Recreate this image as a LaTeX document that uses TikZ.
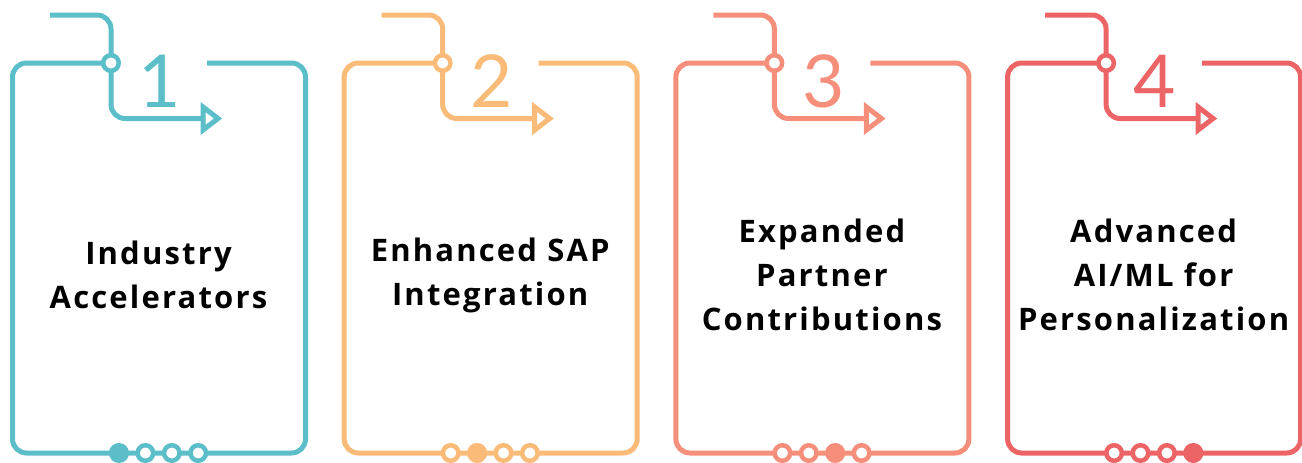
\documentclass[tikz,border=0pt]{standalone}
\usepackage{fontspec}
\newfontfamily\lblfont{Open Sans}[LetterSpace=7]
\newfontfamily\digitfont{Lato}
\definecolor{c1}{HTML}{5BBEC8}
\definecolor{c2}{HTML}{F9BB77}
\definecolor{c3}{HTML}{F58F7B}
\definecolor{c4}{HTML}{EC6465}
\tikzset{
  wire/.style={line width=5pt, rounded corners=14pt},
  tip/.style={line width=5pt, fill=white, line join=miter},
  junc/.style={circle, line width=4.5pt, fill=white, minimum size=15.5pt, inner sep=0pt},
  bead/.style={circle, line width=4.5pt, minimum size=15.5pt, inner sep=0pt},
  lbl/.style={font=\lblfont\bfseries\fontsize{31}{44}\selectfont, align=center, text=black},
  num/.style={font=\digitfont\fontsize{73}{73}\selectfont, anchor=base, inner sep=0pt}
}
\begin{document}
\begin{tikzpicture}[x=1pt,y=-1pt]
\useasboundingbox (0,0) rectangle (1302,463);
\foreach \i/\col/\txt in {1/c1/{Industry\\Accelerators},2/c2/{Enhanced SAP\\Integration},3/c3/{Expanded\\Partner\\Contributions},4/c4/{Advanced\\AI/ML for\\Personalization}}{
  \pgfmathsetmacro\dx{(\i-1)*331.7}
  \begin{scope}[xshift=\dx pt]
    \draw[wire, \col] (103,63) -- (12.5,63) -- (12.5,453) -- (305.5,453) -- (305.5,63) -- (207,63);
    \draw[wire, \col] (50,15) -- (111,15) -- (111,118.5) -- (203,118.5);
    \draw[tip, draw=\col] (203,107) -- (218,118.5) -- (203,130) -- cycle;
    \node[junc, draw=\col] (j\i) at (111,63) {};
    \foreach \k in {1,2,3,4}{
      \ifnum\k=\i\relax \def\fc{\col}\else\def\fc{white}\fi
      \node[bead, draw=\col, fill=\fc] (b\i\k) at ({119+26.4*(\k-1)},453) {};
    }
    \node[num, text=\col] (n\i) at (160,107) {\i};
    \node[lbl] (t\i) at (158.5,275) {\txt};
  \end{scope}
}
\end{tikzpicture}
\end{document}
